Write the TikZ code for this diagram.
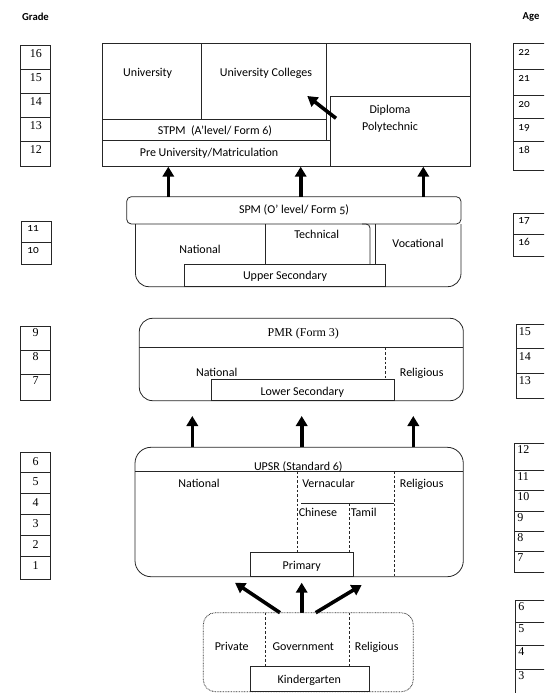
\documentclass[tikz,border=0pt]{standalone}
\usepackage{fontspec}
\setmainfont{Carlito}[Numbers=OldStyle]
\newfontfamily\tnr{Liberation Serif}
\usetikzlibrary{arrows.meta}
\tikzset{
  thinln/.style={line width=0.6pt, draw=black!85},
  dashln/.style={line width=0.6pt, draw=black!85, dash pattern=on 2pt off 1.5pt},
  dotln/.style={line width=0.6pt, draw=black!80, dash pattern=on 0.6pt off 0.6pt},
  lbl/.style={font=\fontsize{9}{10}\selectfont, inner sep=0pt, text height=6.5pt, text depth=2pt},
  tnum/.style={font=\tnr\fontsize{9}{10}\selectfont, inner sep=0pt, anchor=base},
  tnumw/.style={font=\tnr\fontsize{9}{10}\selectfont, inner sep=0pt, anchor=base west},
  onum/.style={font=\fontsize{8.5}{10}\selectfont, inner sep=0pt, anchor=base west},
  bigarrow/.style={line width=2.7pt, draw=black, -{Triangle[width=8.5pt,length=7.5pt]}}
}
\begin{document}
\begin{tikzpicture}[x=0.75pt,y=-0.75pt]
\clip (0,0) rectangle (544,693);
\useasboundingbox (0,0) rectangle (544,693);

% headers
\node[font=\bfseries\fontsize{8}{10}\selectfont, inner sep=0pt] (hgrade) at (35.5,16.5) {Grade};
\node[font=\bfseries\fontsize{8}{10}\selectfont, inner sep=0pt] (hage) at (531,16.5) {Age};

% ---------- left grade columns ----------
\draw[thinln] (20.7,45.3) rectangle (50.7,166.7);
\foreach \yy in {69,93.5,117.5,141.5} \draw[thinln] (20.7,\yy) -- (50.7,\yy);
\foreach \t/\n in {45.3/16,69/15,93.5/14,117.5/13,141.5/12}
  \node[tnum] (g\n) at (36,\t+12) {\n};

\draw[thinln] (21,221.7) rectangle (51.5,264);
\draw[thinln] (21,242.3) -- (51.5,242.3);
\node[onum] (g11) at (27,231.5) {11};
\node[onum] (g10) at (27,253.5) {10};

\draw[thinln] (20.7,326.7) rectangle (50.3,400);
\foreach \yy in {350.7,374} \draw[thinln] (20.7,\yy) -- (50.3,\yy);
\foreach \t/\n in {326.7/9,350.7/8,374/7}
  \node[tnum] (g\n) at (35.7,\t+10) {\n};

\draw[thinln] (20.7,452.7) rectangle (50.3,579.3);
\foreach \yy in {472.3,493.3,514.3,535.7,556.7} \draw[thinln] (20.7,\yy) -- (50.3,\yy);
\foreach \t/\n in {452.7/6,472.3/5,493.3/4,514.3/3,535.7/2,556.7/1}
  \node[tnum] (g\n) at (35.7,\t+13) {\n};

% ---------- right age columns ----------
\draw[thinln] (560,43.3) -- (513.3,43.3) -- (513.3,170) -- (560,170);
\foreach \yy in {69.3,95,118.3,141} \draw[thinln] (513.3,\yy) -- (560,\yy);
\foreach \t/\n in {43.3/22,69.3/21,95/20,118.3/19,141/18}
  \node[onum] (a\n) at (518,\t+12) {\n};

\draw[thinln] (560,213) -- (513.3,213) -- (513.3,256.5) -- (560,256.5);
\draw[thinln] (513.3,234) -- (560,234);
\node[onum] (a17) at (518,223.5) {17};
\node[onum] (a16) at (518,245) {16};

\draw[thinln] (560,324) -- (516.7,324) -- (516.7,398.3) -- (560,398.3);
\foreach \yy in {348.5,373} \draw[thinln] (516.7,\yy) -- (560,\yy);
\foreach \t/\n in {324/15,348.5/14,373/13}
  \node[tnumw] (a\n) at (518.5,\t+11.5) {\n};

\draw[thinln] (560,443.3) -- (514,443.3) -- (514,572.5) -- (560,572.5);
\foreach \yy in {470.3,490,511.5,531.2,551.8} \draw[thinln] (514,\yy) -- (560,\yy);
\foreach \t/\n in {443.3/12,470.3/11,490/10,511.5/9,531.2/8,551.8/7}
  \node[tnumw] (b\n) at (517,\t+10) {\n};

\draw[thinln] (560,600.5) -- (515,600.5) -- (515,700);
\foreach \yy in {622.5,645.8,669.2} \draw[thinln] (515,\yy) -- (560,\yy);
\foreach \t/\n in {600.5/6,622.5/5,645.8/4,669.2/3}
  \node[tnumw] (c\n) at (518,\t+10) {\n};

% ---------- tertiary block ----------
\draw[thinln] (102.7,43) rectangle (470.7,166.7);
\draw[thinln] (201.7,43) -- (201.7,119);
\draw[thinln] (102.7,119) -- (326.7,119);
\draw[thinln] (326.7,43) -- (326.7,140);
\draw[thinln] (102.7,140) -- (330.7,140);
\draw[thinln] (330.7,96) rectangle (470.7,166.7);
\node[lbl] (univ) at (147.7,73) {University};
\node[lbl] (ucol) at (266,73) {University Colleges};
\node[lbl] (stpm) at (215,131) {STPM\ \ (A’level/ Form 6)};
\node[lbl] (preu) at (209,153) {Pre University/Matriculation};
\node[lbl] (dip) at (390,110) {Diploma};
\node[lbl] (poly) at (390,127.7) {Polytechnic};
\coordinate (dipS) at (336,118.3);
\coordinate (ucT) at (307.3,96);
\draw[bigarrow] (dipS) -- (ucT);

% ---------- upper secondary ----------
\draw[thinln, rounded corners=3.5pt] (126.7,196.7) rectangle (461,224);
\node[lbl] (spm) at (294,210.5) {SPM (O’ level/ Form 5)};
\draw[thinln, rounded corners=10pt] (135.5,224) -- (135.5,286.7) -- (461,286.7) -- (461,224);
\draw[thinln] (265,224) -- (265,264.7);
\draw[thinln, rounded corners=3pt] (370,264.7) -- (370,224) -- (362,224);
\draw[thinln] (375,224) -- (375,264.7);
\draw[thinln] (184,264.7) rectangle (385.4,286.7);
\node[lbl] (nat1) at (200,250) {National};
\node[lbl] (tech) at (316.7,235) {Technical};
\node[lbl] (voc) at (418,244.3) {Vocational};
\node[lbl] (usec) at (285,276) {Upper Secondary};
\foreach \xx/\nm in {168.3/a,300.7/b,423.3/c}{
  \coordinate (spm\nm) at (\xx,196.7);
  \coordinate (top\nm) at (\xx,166.7);
  \draw[bigarrow] (spm\nm) -- (top\nm);
}

% ---------- lower secondary ----------
\draw[thinln, rounded corners=10pt] (139.3,318.3) rectangle (463.3,400.7);
\draw[thinln] (139.3,347.7) -- (463.3,347.7);
\draw[dashln] (385,347.7) -- (385,379.3);
\draw[thinln] (211,379.3) rectangle (394,400.7);
\node[font=\tnr\fontsize{9}{10}\selectfont, inner sep=0pt] (pmr) at (303.3,334) {PMR (Form 3)};
\node[lbl] (nat2) at (216.7,373.3) {National};
\node[lbl] (rel2) at (421.7,373.3) {Religious};
\node[lbl] (lsec) at (302.3,392) {Lower Secondary};

% ---------- primary ----------
\foreach \xx/\nm in {192.3/a,301.7/b,413.3/c}{
  \coordinate (upsr\nm) at (\xx,447.3);
  \coordinate (pmr\nm) at (\xx,416);
  \draw[bigarrow] (upsr\nm) -- (pmr\nm);
}
\draw[thinln, rounded corners=12pt] (135,447.3) rectangle (463.3,576.7);
\draw[thinln] (135,471) -- (463.3,471);
\node[font=\fontsize{9}{10}\selectfont, inner sep=0pt, anchor=base] (upsr) at (298.3,470.5) {UPSR (Standard 6)};
\draw[dashln] (297.3,471) -- (297.3,552.7);
\draw[dashln] (394,471) -- (394,576.7);
\draw[thinln] (301,503.3) -- (394,503.3);
\draw[dashln] (349.3,503.3) -- (349.3,552.7);
\draw[thinln] (250.7,552.7) rectangle (353.3,576.7);
\node[lbl] (nat3) at (199,484) {National};
\node[lbl, anchor=west] (vern) at (302,484) {Vernacular};
\node[lbl] (rel3) at (421.7,484) {Religious};
\node[lbl, anchor=west] (chin) at (298.5,513.3) {Chinese};
\node[lbl, anchor=west] (tam) at (350.5,513.3) {Tamil};
\node[lbl] (prim) at (301.7,566) {Primary};

% ---------- kindergarten ----------
\coordinate (kgL) at (280,612.7);
\coordinate (kgM) at (301.7,612.7);
\coordinate (kgR) at (315.7,612.7);
\coordinate (prL) at (235,582.7);
\coordinate (prM) at (301.7,582.7);
\coordinate (prR) at (361.7,585);
\draw[bigarrow] (kgL) -- (prL);
\draw[bigarrow] (kgM) -- (prM);
\draw[bigarrow] (kgR) -- (prR);
\draw[dotln, rounded corners=9pt] (203.3,612.7) rectangle (413.3,691.7);
\draw[dashln] (265,612.7) -- (265,666.7);
\draw[dashln] (349.3,612.7) -- (349.3,666.7);
\draw[thinln] (250,666.7) rectangle (369.3,691);
\node[lbl] (priv) at (231.7,647.7) {Private};
\node[lbl] (gov) at (303.3,647.7) {Government};
\node[lbl] (rel4) at (376.7,647.7) {Religious};
\node[lbl] (kg) at (309.3,680) {Kindergarten};
\end{tikzpicture}
\end{document}
